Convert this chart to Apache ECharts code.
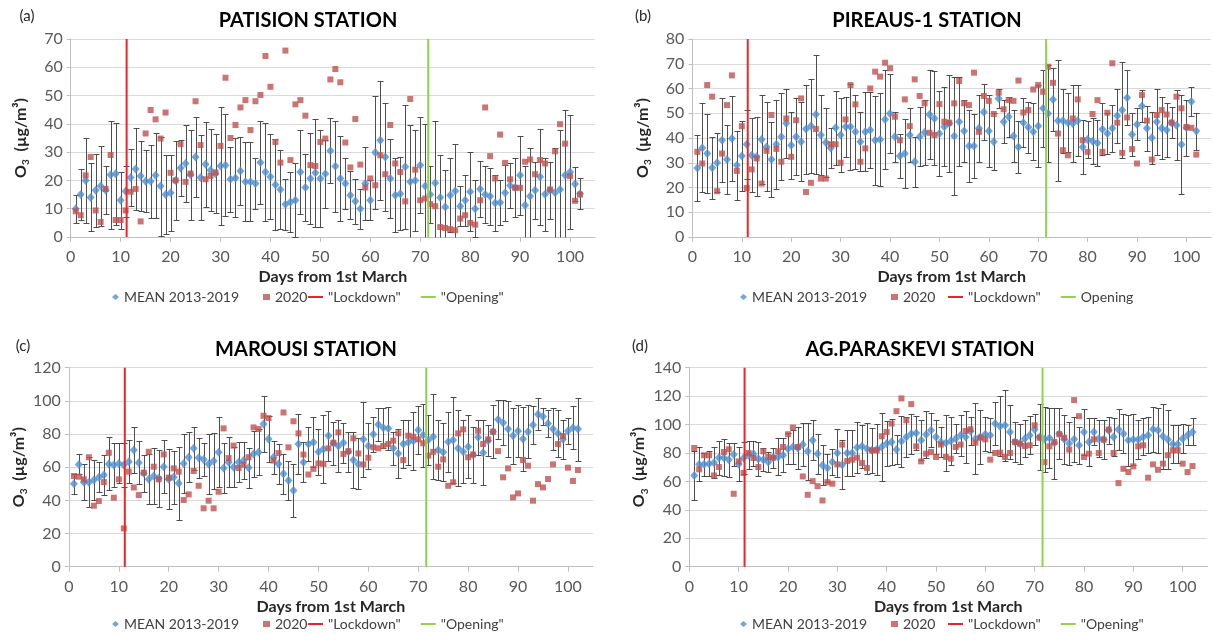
<!DOCTYPE html>
<html>
<head>
<meta charset="utf-8">
<script src="https://cdn.jsdelivr.net/npm/echarts@6/dist/echarts.min.js"></script>
<style>html,body{margin:0;padding:0;background:#fff}#c{width:1215px;height:634px}</style>
</head>
<body>
<div id="c"></div>
<script>
// ---------- DATA ----------
const days = Array.from({length: 102}, (_, i) => i + 1);
const xTicks = [0, 10, 20, 30, 40, 50, 60, 70, 80, 90, 100];
const lockdownDay = 11.2;
const openingDay = 71.6;

// (a) PATISION
const meanA = [10,15,20,14,16.5,18,16.5,22,22.4,13, 16.2,21,24,21.6,19.7,19.7,21.8,18,15,15.6,
  20,24.4,26,22,28.3,21,25.7,23.6,22.4,25.1, 25.4,20.4,20.9,23.3,19.5,19.5,18.9,26.3,23,21.3,
  18.5,16.8,11.6,12.4,13,23,17.5,20.7,22.7,20.7, 22.4,30.5,25,20.7,18.9,14.8,12.6,10,18.9,13,
  29.9,34.2,28.3,20.7,14.8,15.3,24.8,19.5,20,25.4, 18,15,19.1,14,10.6,14.8,16.3,10.9,13,16,
  10,17,15,14.4,12,12.2,15.6,18.2,17.5,21.8, 11.2,14.4,16.5,21.3,15.1,16.5,15.6,16.8,21.8,23,
  18.7,15.3];
const sdA = [5,9,15,12,13,14,8.5,19,18,10, 9,10,14.6,12.5,11,13,15,17.5,14,13.5,
  14,10,13.5,16,14,15,15,14.5,14,21, 18,11.5,14,12,14,14,9,14.7,17.4,15,
  16,14,9,10.6,13,15,12,16,19,17, 12,11.5,16,15,9,8.5,8,7,13,7,
  20,21,19,14,13,13,22,20,18,17, 22,10,22,15,13,13,16.5,7,9,14,
  10,10,10,10,10,8,10,8,10.5,14, 14,17,10,17,13,10,16,21,23,20,
  6,5.5];
const y2020A = [9.1,7.7,21.8,28.3,9.4,5.3,17,29,6,6, 9.4,16,17,5.5,36.6,44.9,41.6,34.8,44,22.7,
  20,32.8,19.5,22.4,48,32.5,20.4,21.6,22.8,32.2, 56.3,35,39.6,45.8,48.4,37.8,48,50.2,64,53.1,
  33.6,26.3,65.9,27.2,46.9,48.4,42.9,25.4,25.1,33.6, 34.8,55.7,59.4,54.7,33.4,24.6,41.7,25.6,17.5,20.7,
  18.3,28.9,22.2,39.6,26,23,12.6,48.8,23.8,13, 13.6,11.6,10.9,3.5,3.2,2.8,2.4,6.5,7.7,5,
  4.4,13,45.8,28.6,20.7,36.2,26.2,20.4,17.4,17.4, 26.6,27.4,22.2,27.2,26,16.8,30.3,39.9,33,21.5,
  12.8,15];

// (b) PIREAUS-1
const meanB = [27.9,36,33.7,28,30,39.1,31.3,39.8,29,32.7, 37.5,33,32.4,39.4,36.4,31.3,37.5,40.5,46,37.1,
  40.5,38.5,43.6,44.8,49.5,41.2,38.2,36,44.1,41.2, 44.5,44.5,42.5,38.5,42.5,43.2,39.1,39.4,47.5,49.9,
  40.5,32.7,33.7,41.2,30.4,40.5,42.2,49.5,47.9,41.8, 44.5,45.9,40.8,46.6,42.8,36.8,36.8,43.9,50.5,42.8,
  38.5,56,46.6,48.6,40.8,36.4,46.2,44.3,42.5,44.8, 52,49.9,55.6,47,47,46.2,45.9,47,36.4,39.4,
  38.7,38,43.5,41.8,43.9,49,51.3,56.3,41.4,45.5, 52.9,43.9,40.1,46.6,43.9,43.2,46.2,45.2,37.4,44.1,
  54.7,42.8];
const sdB = [13.5,18,16,12.5,12,17,14,17,14,14, 14,15,16,18,18,15,18,17.5,14,13.5,
  15.5,16,18,19,24,16,14,8,15,15, 12,17.5,15,12,16,15.5,18,18.6,20,16,
  10,9,14,11,10,12,13,18,19,17, 16,19.6,24,18,12.5,14.5,13,13.5,11.5,14.6,
  11.5,4,8.7,8,10.5,10.6,10,10.4,11.5,16.6, 15.5,19.6,12.6,24.5,13,11.8,15.5,14.4,10.8,7.6,
  9.2,9.2,10.5,8.2,9.4,11,19.5,11.2,8.8,6.5, 6.5,9,10.5,13.4,12.5,10.8,6.4,14.2,20,11.2,
  6,7.5];
const y2020B = [34.4,29.7,61.4,56.7,18.5,33.7,53.3,65.3,26.7,44.8, 19.8,27.3,31.7,21.6,34.8,49.3,35.6,30.4,47.9,32.4,
  47.2,56,18.2,21.9,43.6,23.6,23.6,37.5,37.5,30, 47.5,61.4,53.6,30.4,35.8,60,66.8,64.8,70.4,68.2,
  48.6,39.1,55.6,44.8,63.7,57,54,42.1,41.2,53.7, 46.6,46.2,54,63,54,53.3,66.4,42.5,57,55,
  49.7,58.3,51.6,55.3,55,63.2,50.3,51.3,59.6,61.4, 58.7,68.8,62.3,41.8,35.1,33,47.9,55.6,39.1,34.4,
  49.7,55.3,34.4,50.2,70.2,46.2,34,48.3,35.5,29.7, 57.4,47,31.3,49.3,51.3,49.5,46.2,56.7,52,44.5,
  44.1,33.3];

// (c) MAROUSI
const meanC = [50,61.7,51,51,52.3,54,55.3,62,61.3,62.3, 61.3,63.3,70.4,62.7,56.3,52.7,54.7,53.3,60.3,52.7,
  54,50.3,62.3,66,71.4,65.7,64.7,62,63.7,69, 59.5,63,60,63,64,59.7,68,69,86,77,
  66,62,56,52,46,74,63,74,75,69.3, 71,79,74.4,72.8,74.8,69.3,64.3,62,76.8,72.8,
  79.8,85.8,83.8,83.4,71.4,68.3,74,75,76,82.4, 79.4,76.4,78.4,70.4,69,75.4,76.4,71.4,69.3,72.4,
  67.3,78,68.7,76,81.4,88.8,86.8,83,79,81.8, 77,81.4,85.4,91.9,90.5,86.4,83,80.4,76.8,81.8,
  83.8,83];
const sdC = [6,6,11,15,12,9,12,16,13,12, 13,13,14,13,11,15,17,17,16,18,
  16,22,18,15,13,12,10,18,17,21, 15,15,12,12,11,12,14,14,17,14,
  10,12,12,12,16,18,12,10,15,14, 20.5,15,13,15.6,12,12,16.7,15.4,22.7,13.6,
  10.7,10.2,12.2,13,10,15,14.4,13.4,17.5,14.5, 19,15,25.6,18,17.4,18,26,23,19,19,
  17,10.4,19.7,9.4,16,11.7,13.7,17,17,15.7, 19.5,16,11.5,9.6,5,8,12.5,14,11.6,7.6,
  13,19];
const y2020C = [54.7,54.3,52.7,66,36.8,39.6,51,68.7,41.6,52.7, 23.1,57.3,47.8,43.2,56.7,69.3,60.3,52.7,67.7,53.7,
  59.3,57.3,40.2,43.6,57.7,48.8,35.2,39.8,35.2,45.2, 83.4,65.5,73,59.5,61.5,66,84,83,91,89.6,
  64,68.5,93,72,87.7,80.4,67.6,55.6,59,62.3, 62,71.4,74.8,81,68,69.7,77.4,68.3,61.7,65.7,
  72,71.4,72.8,74,76,80.4,64.3,79,78.4,76.8, 74.4,67,69.3,60.3,64.7,48.8,50.9,80.4,82.8,66,
  67.7,82,74,76.8,81.4,69.7,53.9,59.3,41.8,44.2, 64.3,60.9,39.8,49.8,47.8,52.9,61.7,74,78.8,59.7,
  51.7,58.3];

// (d) AG.PARASKEVI
const meanD = [64.2,72,72,72.5,73.2,76.7,76.7,75.3,79,72, 76.5,78.4,79.5,76,75.3,73.6,76.7,77.2,78.4,83,
  84.2,83.5,86,81.2,88.9,79.5,71.3,69.4,73.6,80, 71.8,80,80,83.8,84.7,83,81.9,82.4,84.2,86.6,
  87.8,82.4,88.2,91.3,93.6,94.1,89,93,96,91.3, 87.8,87,88.5,90.1,92.5,91.3,95.3,90.1,91.3,93.2,
  92.5,100.7,98.8,99.5,94.8,87.8,86.6,90.1,92.5,96.5, 91.3,89.6,90.6,87,93.6,89.6,86.6,89.6,85.4,94.8,
  87.8,94.8,90.1,89.4,96,91.3,96.5,93.6,89,89.4, 89.4,91.3,92.5,96.7,96,91.8,89.4,86.1,86.1,90.1,
  92.5,94.8];
const sdD = [17,12,8,9,11,12,13,12,8,12, 11,10,9,12,8,7,7,13,12,11,
  12,15,15,20,14,14,14,10,9,17, 17,16,16,18,15,18,16,18,24,16,
  16,10,18,14,14,12,14,16.6,12,12, 10.6,20,17,10,14.5,18,10,25,19,12,
  12,15,21,25,19,14,14,13,13.5,11, 23.5,23,21,25,18,17,15,16,13,16,
  17,9.5,13,13.6,9.5,13.6,14.5,13.7,18,17.7, 13.6,13,12.5,16,16,23,20.7,13.4,13.4,10,
  7,9.5];
const y2020D = [83.5,68.5,78.4,78.4,64.2,70.1,80.7,82.6,51.3,74.1, 65.9,80,76.5,70.1,81.2,77.2,76.7,81.2,84.2,93.2,
  97.9,84.2,63.5,50.6,60.2,56.7,46.6,59.5,58.4,72, 85.9,74.4,75.3,76.7,72.9,69.4,81.9,81.9,91.8,94.8,
  100.7,109.4,118.4,103,114.4,84.7,74.1,79.5,80.7,77.2, 85.9,77.2,76,84.2,85.9,95.5,96.7,87.3,90.8,89.6,
  75.3,80,80.2,77.2,80,87.8,86.6,84.9,85.4,99.5, 90.8,73.6,84.7,87.8,93.2,90.8,82.4,117.2,105.9,77.2,
  79.5,89.6,80,89.4,96.5,80,58.8,68.9,66.6,70.6, 84.7,85.4,62.6,72,68.2,72.5,78.4,81.9,81.9,72.5,
  66.6,70.8];

const panelTitles = ['PATISION STATION', 'PIREAUS-1 STATION', 'MAROUSI STATION', 'AG.PARASKEVI STATION'];
const panelTags = ['(a)', '(b)', '(c)', '(d)'];
const yMax = [70, 80, 120, 140];
const yStep = [10, 10, 20, 20];
const openingNames = ['"Opening"', 'Opening', '"Opening"', '"Opening"'];
const seriesMean = [meanA, meanB, meanC, meanD];
const seriesSd = [sdA, sdB, sdC, sdD];
const series2020 = [y2020A, y2020B, y2020C, y2020D];

// ---------- LAYOUT ----------
const grids = [
  {left: 70.7, top: 39, width: 524.3, height: 198},
  {left: 692.4, top: 39, width: 518.7, height: 198},
  {left: 68.9, top: 367.7, width: 524, height: 199},
  {left: 689.3, top: 367.7, width: 518, height: 199}
];
const titlePos = [[308, 21], [927, 21], [306, 350], [920, 350]];
const tagPos = [[27, 16], [643, 16], [23, 346], [640, 346]];
const legendTop = [290, 290, 617, 617];
const legendLeftPts = [112, 740, 112, 740];
const legendLeftLines = [308, 948, 308, 948];

const FONT = 'Lato, "Liberation Sans", sans-serif';
const C_MEAN = '#4f8fd0', C_2020 = '#c0504d', C_LOCK = '#e8262a', C_OPEN = '#92d050';

function errRender(params, api) {
  const x = api.value(0), lo = api.value(1), hi = api.value(2);
  const top = api.coord([x, hi]);
  const bot = api.coord([x, Math.max(lo, 0)]);
  const px = Math.round(top[0]) + 0.5;
  const ty = Math.round(top[1]) + 0.5, by = Math.round(bot[1]) + 0.5;
  const w = 3;
  const st = {stroke: '#3c3c3c', lineWidth: 1, opacity: 0.9};
  const ch = [
    {type: 'line', shape: {x1: px, y1: ty, x2: px, y2: by}, style: st},
    {type: 'line', shape: {x1: px - w, y1: ty, x2: px + w, y2: ty}, style: st}
  ];
  if (lo >= 0) ch.push({type: 'line', shape: {x1: px - w, y1: by, x2: px + w, y2: by}, style: st});
  return {type: 'group', children: ch};
}

const legendText = {fontFamily: FONT, fontSize: 14, color: '#404040'};
const legends = [];
for (let i = 0; i < 4; i++) {
  legends.push({
    left: legendLeftPts[i], top: legendTop[i], orient: 'horizontal',
    itemWidth: 7, itemHeight: 6, itemGap: 24, selectedMode: false, padding: 0,
    textStyle: legendText,
    data: [{name: 'MEAN 2013-2019', icon: 'diamond'}, {name: '2020', icon: 'rect'}]
  });
  legends.push({
    left: legendLeftLines[i], top: legendTop[i], orient: 'horizontal',
    itemWidth: 15, itemHeight: 2, itemGap: 20, selectedMode: false, padding: 0,
    textStyle: legendText,
    data: [{name: '"Lockdown"', icon: 'rect'}, {name: openingNames[i], icon: 'rect'}]
  });
}

const option = {
  animation: false,
  backgroundColor: '#fff',
  grid: grids.map(g => Object.assign({outerBoundsMode: 'none', containLabel: false}, g)),
  xAxis: grids.map((g, i) => ({
    type: 'value', gridIndex: i, min: 0, max: 105, interval: 10,
    name: 'Days from 1st March', nameLocation: 'middle', nameGap: 32,
    nameTextStyle: {fontFamily: FONT, fontWeight: 'bold', fontSize: 16, color: '#262626'},
    axisLine: {show: true, onZero: false, lineStyle: {color: '#bfbfbf', width: 1}},
    axisTick: {show: true, length: 5, lineStyle: {color: '#bfbfbf'}},
    axisLabel: {fontFamily: FONT, fontSize: 16, color: '#595959', margin: 12, showMaxLabel: false,
      formatter: v => (xTicks.indexOf(v) >= 0 ? String(v) : '')},
    splitLine: {show: false}
  })),
  yAxis: grids.map((g, i) => ({
    type: 'value', gridIndex: i, min: 0, max: yMax[i], interval: yStep[i],
    name: '{o|O}{s|3}{o|  (µg/m³)}', nameLocation: 'middle', nameRotate: 90, nameGap: 40,
    nameTextStyle: {
      fontFamily: FONT, fontWeight: 'bold', fontSize: 16, color: '#262626',
      rich: {
        o: {fontFamily: FONT, fontWeight: 'bold', fontSize: 16, color: '#262626', lineHeight: 20, verticalAlign: 'middle'},
        s: {fontFamily: FONT, fontWeight: 'bold', fontSize: 10, color: '#262626', lineHeight: 20, verticalAlign: 'bottom'}
      }
    },
    axisLine: {show: true, lineStyle: {color: '#bfbfbf', width: 1}},
    axisTick: {show: true, length: 4, lineStyle: {color: '#bfbfbf'}},
    axisLabel: {fontFamily: FONT, fontSize: 16, color: '#595959', margin: 8},
    splitLine: {show: true, lineStyle: {color: '#d9d9d9', width: 1}}
  })),
  legend: legends,
  graphic: [].concat(
    panelTitles.map((t, i) => ({
      type: 'text', x: titlePos[i][0], y: titlePos[i][1], z: 10,
      style: {text: t, fill: '#000', font: 'bold 20px ' + FONT, align: 'center', verticalAlign: 'middle'}
    })),
    panelTags.map((t, i) => ({
      type: 'text', x: tagPos[i][0], y: tagPos[i][1], z: 10,
      style: {text: t, fill: '#262626', font: '15px ' + FONT, align: 'center', verticalAlign: 'middle'}
    }))
  ),
  series: []
};

for (let i = 0; i < 4; i++) {
  const m = seriesMean[i], s = seriesSd[i], r = series2020[i];
  option.series.push({
    type: 'custom', name: 'err' + i, xAxisIndex: i, yAxisIndex: i, z: 2,
    renderItem: errRender, encode: {x: 0, y: [1, 2]},
    data: days.map((d, k) => [d, m[k] - s[k], m[k] + s[k]])
  });
  option.series.push({
    type: 'scatter', name: 'MEAN 2013-2019', xAxisIndex: i, yAxisIndex: i, z: 3,
    symbol: 'diamond', symbolSize: [8, 9], itemStyle: {color: C_MEAN},
    data: days.map((d, k) => [d, m[k]])
  });
  option.series.push({
    type: 'scatter', name: '2020', xAxisIndex: i, yAxisIndex: i, z: 4,
    symbol: 'rect', symbolSize: 6, itemStyle: {color: C_2020},
    data: days.map((d, k) => [d, r[k]])
  });
  option.series.push({
    type: 'line', name: '"Lockdown"', xAxisIndex: i, yAxisIndex: i, z: 5,
    symbol: 'none', lineStyle: {color: C_LOCK, width: 2}, itemStyle: {color: C_LOCK},
    data: [[lockdownDay, 0], [lockdownDay, yMax[i]]]
  });
  option.series.push({
    type: 'line', name: openingNames[i], xAxisIndex: i, yAxisIndex: i, z: 5,
    symbol: 'none', lineStyle: {color: C_OPEN, width: 2}, itemStyle: {color: C_OPEN},
    data: [[openingDay, 0], [openingDay, yMax[i]]]
  });
}

const chart = echarts.init(document.getElementById('c'), null, {renderer: 'canvas'});
chart.setOption(option);
</script>
</body>
</html>
